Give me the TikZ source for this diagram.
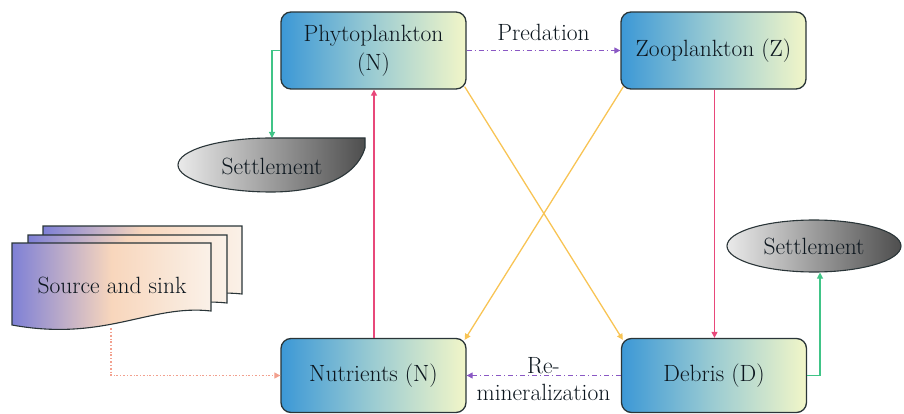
\documentclass[tikz,border=0pt]{standalone}
\usepackage{fontspec}
\usetikzlibrary{arrows.meta,calc,shapes.geometric}
\definecolor{boxL}{HTML}{3C98D6}
\definecolor{boxR}{HTML}{F2F6C8}
\definecolor{boxM}{HTML}{9CCCD2}
\definecolor{boxline}{HTML}{2A3538}
\definecolor{txt}{HTML}{0C161E}
\definecolor{redarr}{HTML}{E8487A}
\definecolor{yelarr}{HTML}{F8C455}
\definecolor{purarr}{HTML}{8A58C4}
\definecolor{grnarr}{HTML}{40C487}
\definecolor{salarr}{HTML}{F2A08E}
\definecolor{grayL}{HTML}{EAEAEA}
\definecolor{grayR}{HTML}{4E4E4E}
\definecolor{srcL}{HTML}{7E80D6}
\definecolor{srcM}{HTML}{F8D6BC}
\definecolor{srcR}{HTML}{FAF1E8}
\begin{document}
\begin{tikzpicture}[x=1pt,y=-1pt,
  bigfont/.style={font=\rmfamily\fontsize{23.5}{29}\selectfont},
  procbox/.style={draw=boxline, line width=1.3pt, rounded corners=10pt,
    minimum width=185pt, minimum height=77pt, inner sep=0pt,
    left color=boxL, right color=boxR, middle color=boxM,
    text=txt, align=center, bigfont},
  tip/.style={-{Triangle[length=6pt,width=6pt]}},
  conn/.style={tip, line width=1.1pt},
  dashdot/.style={dash pattern=on 5pt off 3pt on 1pt off 3pt},
  settle/.style={draw=boxline, line width=1.1pt, left color=grayL, right color=grayR},
  docshape/.style={draw=boxline, line width=1.1pt, left color=srcL, right color=srcR, middle color=srcM},
  lbl/.style={bigfont, text=txt, align=center, inner sep=0pt}
]
\useasboundingbox (0,0) rectangle (904,414);

% main boxes
\node[procbox] (phyto) at (373.5,50.5) {Phytoplankton\\(N)};
\node[procbox] (zoo) at (713.5,50.5) {Zooplankton (Z)};
\node[procbox, minimum height=74pt] (nut) at (373.5,375.5) {Nutrients (N)};
\node[procbox, minimum height=74pt] (debris) at (714,375.5) {Debris (D)};

% left settlement shape
\path[settle] (271,138) -- (365,138) -- (365,148)
  .. controls (356,178) and (318,192) .. (271,192)
  .. controls (219.6,192) and (178,179.9) .. (178,165)
  .. controls (178,150.1) and (219.6,138) .. (271,138) -- cycle;
\node[lbl] (set1) at (272,166) {Settlement};
\coordinate (set1top) at (272,138);

% right settlement
\node[ellipse, settle, minimum width=174pt, minimum height=52pt, inner sep=0pt, lbl] (set2) at (814,246) {Settlement};

% source and sink documents
\foreach \dx/\dy in {31/-17, 16/-8, 0/0}{
  \path[docshape, shift={(\dx,\dy)}] (12,243) -- (211,243) -- (211,311)
    .. controls (150,304) and (105,342) .. (12,325) -- cycle;
}
\node[lbl] (src) at (112,285) {Source and sink};
\coordinate (srcbot) at (111,328);

% connectors
\draw[conn, purarr, dashdot] (phyto.east) -- (zoo.west)
  node[midway, above=9pt, lbl] (pred) {Predation};
\draw[conn, grnarr] (phyto.west) -| (set1top);
\draw[conn, redarr, line width=1.2pt] ([xshift=0.5pt]nut.north) -- ([xshift=0.5pt]phyto.south);
\draw[conn, redarr, line width=1.2pt] ([xshift=1pt]zoo.south) -- ([xshift=0.5pt]debris.north);
\draw[conn, yelarr, line width=1.3pt] ([shift={(-2,-3)}]phyto.south east) -- ([shift={(2,2)}]debris.north west);
\draw[conn, yelarr, line width=1.3pt] ([shift={(3,-3)}]zoo.south west) -- ([shift={(-2,2)}]nut.north east);
\draw[conn, purarr, dashdot] (debris.west) -- (nut.east);
\node[lbl, font=\rmfamily\fontsize{23.5}{27}\selectfont] (remin) at (543.5,379) {Re-\\mineralization};
\draw[conn, grnarr] (debris.east) -| ([xshift=6pt]set2.south);
\draw[conn, salarr, dash pattern=on 2pt off 2pt on 0.6pt off 2pt] (srcbot) |- (nut.west);
\end{tikzpicture}
\end{document}
